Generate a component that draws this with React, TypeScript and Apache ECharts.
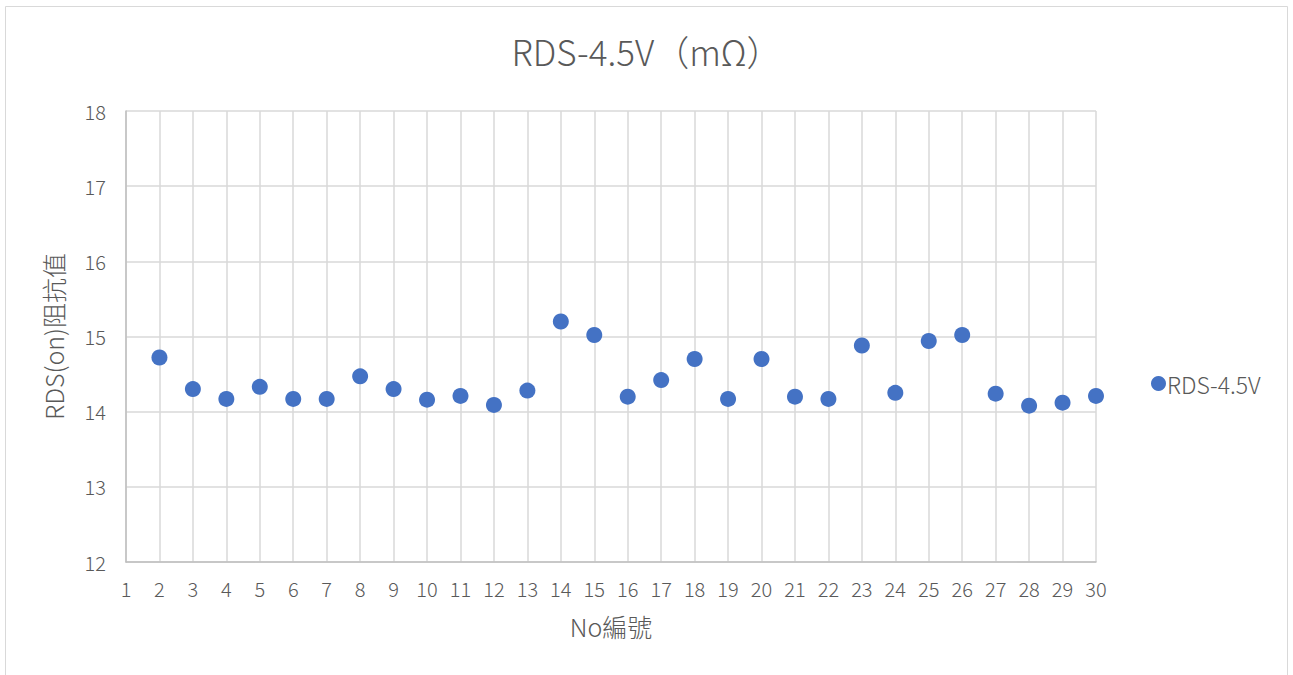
import React, { useEffect, useRef } from "react";
import * as echarts from "echarts";

const xValues = [2, 3, 4, 5, 6, 7, 8, 9, 10, 11, 12, 13, 14, 15, 16, 17, 18, 19, 20, 21, 22, 23, 24, 25, 26, 27, 28, 29, 30];
const yValues = [14.72, 14.3, 14.17, 14.33, 14.17, 14.17, 14.47, 14.3, 14.16, 14.21, 14.09, 14.28, 15.2, 15.02, 14.2, 14.42, 14.7, 14.17, 14.7, 14.2, 14.17, 14.88, 14.25, 14.94, 15.02, 14.24, 14.08, 14.12, 14.21];
const seriesName = "RDS-4.5V";
const titleText = "RDS-4.5V（mΩ）";
const xAxisName = "No編號";
const yAxisName = "RDS(on)阻抗值";

const FONT = "'Noto Sans CJK TC', 'Noto Sans', sans-serif";
const TXT = "#595959";

export default function App() {
  const ref = useRef<HTMLDivElement>(null);
  useEffect(() => {
    if (!ref.current) return;
    const chart = echarts.init(ref.current, undefined, { renderer: "svg" });
    const data = xValues.map((x, i) => [x, yValues[i]]);
    chart.setOption({
      animation: false,
      backgroundColor: "#ffffff",
      textStyle: { fontFamily: FONT },
      title: {
        text: titleText,
        left: "center",
        top: 28,
        textStyle: { fontFamily: FONT, fontSize: 35, fontWeight: 300, color: TXT },
      },
      graphic: [
        {
          type: "rect",
          shape: { x: 5.5, y: 6.5, width: 1282, height: 680 },
          style: { fill: "none", stroke: "#D9D9D9", lineWidth: 1 },
          silent: true,
        },
      ],
      legend: {
        orient: "vertical",
        left: 1146,
        top: 367,
        itemWidth: 15,
        itemHeight: 15,
        itemGap: 4,
        icon: "circle",
        textStyle: { fontFamily: FONT, fontSize: 23, fontWeight: 300, color: TXT, padding: [0, 0, 0, -4] },
        data: [seriesName],
      },
      grid: { left: 126, top: 111, width: 970, height: 451, containLabel: false },
      xAxis: {
        type: "value",
        min: 1,
        max: 30,
        interval: 1,
        name: xAxisName,
        nameLocation: "middle",
        nameGap: 51,
        nameTextStyle: { fontFamily: FONT, fontSize: 25, fontWeight: 300, color: TXT },
        axisLine: { show: true, lineStyle: { color: "#BFBFBF", width: 1.5 } },
        axisTick: { show: false },
        axisLabel: { fontFamily: FONT, fontSize: 20, fontWeight: 300, color: TXT, margin: 16 },
        splitLine: { show: true, lineStyle: { color: "#D9D9D9", width: 1.5 } },
      },
      yAxis: {
        type: "value",
        min: 12,
        max: 18,
        interval: 1,
        name: yAxisName,
        nameLocation: "middle",
        nameGap: 61,
        nameRotate: 90,
        nameTextStyle: { fontFamily: FONT, fontSize: 25, fontWeight: 300, color: TXT },
        axisLine: { show: true, lineStyle: { color: "#BFBFBF", width: 1.5 } },
        axisTick: { show: false },
        axisLabel: { fontFamily: FONT, fontSize: 20, fontWeight: 300, color: TXT, margin: 20 },
        splitLine: { show: true, lineStyle: { color: "#D9D9D9", width: 1.5 } },
      },
      series: [
        {
          name: seriesName,
          type: "scatter",
          data,
          symbol: "circle",
          symbolSize: 16,
          itemStyle: { color: "#4472C4", opacity: 1 },
        },
      ],
    });
    return () => chart.dispose();
  }, []);
  return (
    <div
      ref={ref}
      style={{ position: "fixed", left: 0, top: 0, width: 1293, height: 675 }}
    />
  );
}
